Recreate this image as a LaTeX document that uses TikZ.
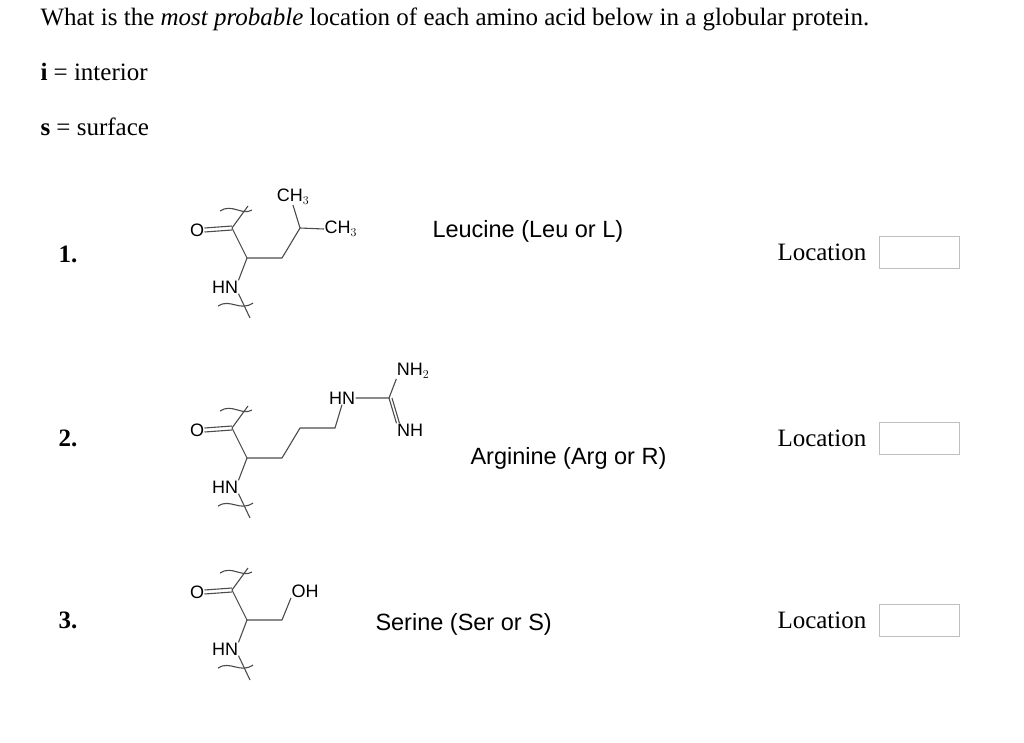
\documentclass[tikz,border=0pt]{standalone}
\usepackage{fontspec}
\setmainfont{Liberation Serif}
\newfontfamily\chem{Liberation Sans}
\begin{document}
\begin{tikzpicture}[x=1pt,y=-1pt,line width=1pt,
  serif/.style={font=\fontsize{25}{29}\selectfont,anchor=west,inner sep=0},
  chemlbl/.style={font=\chem\fontsize{18}{20}\selectfont,inner sep=0},
  namelbl/.style={font=\chem\fontsize{23.5}{26}\selectfont,anchor=west,inner sep=0},
  bond/.style={draw=black!70,line width=1.1pt},
  locbox/.style={draw=black!25,minimum width=80,minimum height=32,inner sep=0}]
\useasboundingbox (0,0) rectangle (1024,742);
\node[serif] (q) at (40,19) {What is the \textit{most probable} location of each amino acid below in a globular protein.};
\node[serif] (i) at (40,72) {\textbf{i} = interior};
\node[serif] (s) at (40,127) {\textbf{s} = surface};
\newcommand{\bb}{%
  \node[chemlbl] (O) at (197,230) {O};
  \node[chemlbl] (HN) at (225,287) {HN};
  \coordinate (C) at (232,228);
  \coordinate (A) at (247,258);
  \coordinate (B) at (282,258);
  \draw[bond] ([yshift=-2]O.east) -- ([yshift=-2]C);
  \draw[bond] ([yshift=2]O.east) -- ([yshift=2]C);
  \draw[bond] (C) -- (248,206);
  \draw[bond] (220,211) .. controls (232,203) and (242,216) .. (252,210);
  \draw[bond] (C) -- (A) -- (B);
  \draw[bond] (A) -- (HN.north east);
  \draw[bond] (HN.south east) -- (250,318);
  \draw[bond] (218,306) .. controls (230,298) and (240,312) .. (253,303);
}
% 1
\node[serif,font=\bfseries\fontsize{25}{29}\selectfont] (n1) at (58,254) {1.};
\bb
\coordinate (D) at (300,228);
\node[chemlbl,anchor=west] (m1) at (324,229) {CH$_3$};
\node[chemlbl] (m2) at (293,197) {CH$_3$};
\draw[bond] (B) -- (D) -- (m1.west);
\draw[bond] (D) -- (m2.south);
\node[namelbl] (leu) at (432,231) {Leucine (Leu or L)};
\node[serif] (l1) at (777,252) {Location};
\node[locbox,anchor=west] (b1) at (879,252) {};
% 2
\node[serif,font=\bfseries\fontsize{25}{29}\selectfont] (n2) at (58,438) {2.};
\begin{scope}[shift={(0,200)}]
\bb
\coordinate (D2) at (300,228);
\coordinate (E2) at (335,228);
\node[chemlbl] (hn2) at (342,198) {HN};
\coordinate (G) at (389,198);
\node[chemlbl] (nh2) at (413,171) {NH$_2$};
\node[chemlbl] (nh) at (410,230) {NH};
\draw[bond] (B) -- (D2) -- (E2) -- (hn2.south);
\draw[bond] (hn2.east) -- (G) -- (nh2.south west);
\draw[bond] (G) -- (nh.north west);
\draw[bond] ([xshift=3]G) -- ([xshift=3]nh.north west);
\end{scope}
\node[namelbl] (arg) at (470,458) {Arginine (Arg or R)};
\node[serif] (l2) at (777,438) {Location};
\node[locbox,anchor=west] (b2) at (879,438) {};
% 3
\node[serif,font=\bfseries\fontsize{25}{29}\selectfont] (n3) at (58,620) {3.};
\begin{scope}[shift={(0,362)}]
\bb
\node[chemlbl,anchor=west] (oh) at (291,229) {OH};
\draw[bond] (B) -- (oh.south west);
\end{scope}
\node[namelbl] (ser) at (375,624) {Serine (Ser or S)};
\node[serif] (l3) at (777,620) {Location};
\node[locbox,anchor=west] (b3) at (879,620) {};
\end{tikzpicture}
\end{document}
